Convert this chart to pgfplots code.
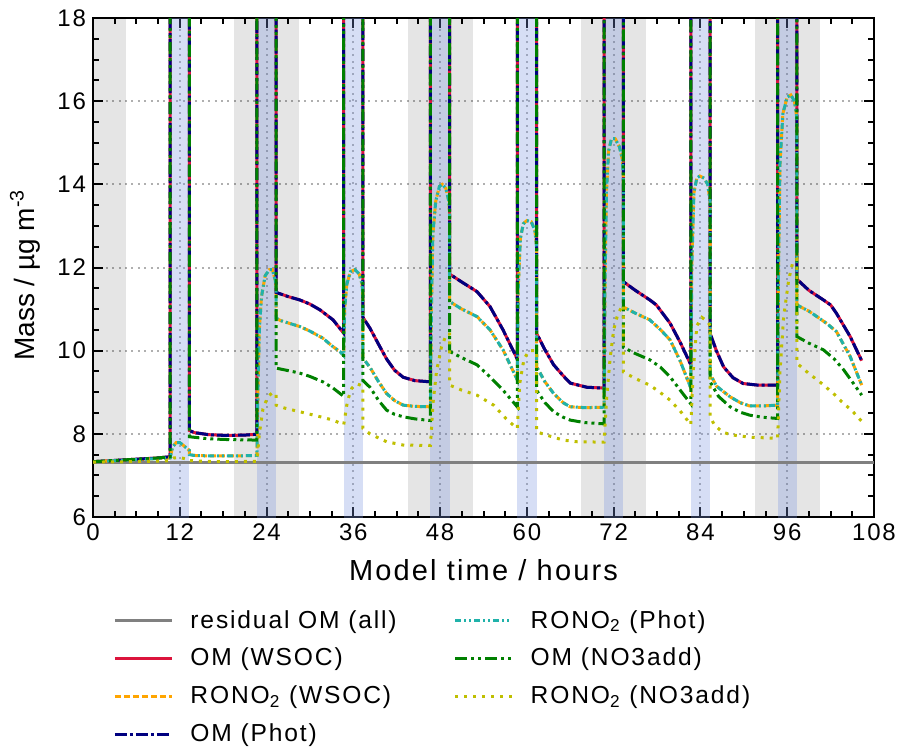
\documentclass[border=0pt]{standalone}
\usepackage{fontspec}
\setmainfont{Liberation Sans}[LetterSpace=7.5]
\newfontfamily\plainfont{Liberation Sans}
\usepackage{pgfplots}
\usepackage{pgfplotstable}
\pgfplotsset{compat=1.18}

\definecolor{bandblue}{RGB}{123,149,223}
\definecolor{cres}{RGB}{128,128,128}
\definecolor{cred}{RGB}{220,20,60}
\definecolor{corange}{RGB}{255,165,0}
\definecolor{cnavy}{RGB}{0,0,128}
\definecolor{cteal}{RGB}{32,178,170}
\definecolor{cgreen}{RGB}{0,128,0}
\definecolor{cyellow}{RGB}{191,191,0}
\definecolor{cgrid}{RGB}{175,175,175}

\tikzset{
 sres/.style={cres, line width=1.5pt},
 somw/.style={cred, line width=1.5pt},
 srnw/.style={corange, line width=1.5pt, dash pattern=on 3pt off 1.5pt},
 somp/.style={cnavy, line width=1.5pt, dash pattern=on 6pt off 1.5pt on 1.5pt off 1.5pt},
 srnp/.style={cteal, line width=1.5pt, dash pattern=on 3pt off 1.5pt on 1pt off 1.5pt on 1pt off 1.5pt},
 somn/.style={cgreen, line width=1.5pt, dash pattern=on 6pt off 2pt on 1.5pt off 2pt on 1.5pt off 2pt},
 srnn/.style={cyellow, line width=1.5pt, dash pattern=on 1.5pt off 3pt},
}

% OM (WSOC) and OM (Phot)
\pgfplotstableread{
x y
0 7.33
3 7.36
6 7.39
9 7.42
10.67 7.45
10.67 30
13.33 30
13.33 8.08
14 8.03
16 7.98
18.5 7.96
21 7.97
22.67 7.99
22.67 30
25.33 30
25.33 11.40
27 11.30
28.6 11.22
30 11.12
31.4 10.98
33.2 10.74
34.67 10.42
34.67 30
37.33 30
37.33 10.80
38.3 10.54
39.5 10.15
40.6 9.80
41.7 9.53
42.9 9.36
44.5 9.28
46.67 9.25
46.67 30
49.33 30
49.33 11.84
51 11.65
53.1 11.42
54.9 11.06
56.7 10.50
58.67 9.80
58.67 30
61.33 30
61.33 10.42
62.5 10.02
63.7 9.66
65 9.40
66 9.22
68.3 9.12
70.67 9.10
70.67 30
73.33 30
73.33 11.66
75 11.45
77 11.22
77.9 11.10
79.8 10.66
81.2 10.20
82.67 9.66
82.67 30
85.33 30
85.33 10.42
86.2 10.00
87.2 9.61
88.5 9.35
89.9 9.21
92 9.17
94.67 9.17
94.67 30
97.33 30
97.33 11.72
99 11.45
101 11.22
102 11.10
102.8 10.90
104.7 10.34
106.3 9.76
}\tabOM

% RONO2 (WSOC) and RONO2 (Phot)
\pgfplotstableread{
x y
0 7.33
5 7.37
10.67 7.42
11.0 7.68
11.5 7.79
12 7.79
12.5 7.72
13.33 7.6
13.33 7.5
14 7.48
16 7.47
20 7.47
22.67 7.48
22.8 9.0
23.0 10.5
23.3 11.3
23.8 11.8
24.4 11.95
24.8 11.95
25.2 11.7
25.33 11.5
25.33 10.78
26 10.72
28.6 10.58
30 10.47
31.8 10.30
33 10.12
34.2 9.97
34.67 9.88
34.8 11.0
35.1 11.6
35.6 11.9
36.2 11.95
36.8 11.85
37.2 11.6
37.33 11.3
37.33 9.82
38.3 9.60
39.5 9.25
40.6 8.97
41.7 8.80
42.9 8.69
44.5 8.66
46.67 8.65
46.8 11.0
47.0 12.8
47.4 13.6
47.9 13.95
48.3 14.0
48.8 13.9
49.2 13.6
49.33 13.2
49.33 11.18
51 11.0
53.1 10.82
54.9 10.50
56.7 10.02
58.67 9.30
58.8 11.5
59.1 12.7
59.5 13.05
60.0 13.13
60.6 13.10
61.1 12.9
61.33 12.5
61.33 9.62
62.5 9.25
63.7 8.97
65 8.75
66 8.65
68 8.63
70.67 8.64
70.8 11.5
71.0 13.8
71.3 14.8
71.7 15.1
72.2 15.1
72.8 14.9
73.2 14.6
73.33 14.2
73.33 11.05
75 10.90
77 10.74
78.5 10.50
79.8 10.26
81.2 9.75
82.67 9.10
82.8 12.0
83.1 13.8
83.5 14.15
83.9 14.2
84.5 14.15
85.0 14.0
85.33 13.6
85.33 9.45
86.2 9.15
88.1 8.89
89.5 8.75
90.8 8.67
92.5 8.67
94.67 8.69
94.8 12.0
95.0 14.5
95.4 15.7
96.0 16.1
96.5 16.15
97.0 16.0
97.33 15.6
97.33 11.10
99 10.95
100.1 10.82
101.5 10.65
102.8 10.46
104.7 9.86
106.3 9.17
}\tabRN

% OM (NO3add)
\pgfplotstableread{
x y
0 7.33
3 7.36
6 7.39
9 7.42
10.67 7.45
10.67 30
13.33 30
13.33 7.93
16 7.88
19 7.86
22.67 7.85
22.67 30
25.33 30
25.33 9.58
27 9.52
28.6 9.46
30 9.38
31.8 9.25
33.2 9.10
34.67 8.90
34.67 30
37.33 30
37.33 9.28
38.3 9.12
39.5 8.80
40.6 8.57
41.7 8.47
42.9 8.41
44.5 8.36
46.67 8.32
46.67 30
49.33 30
49.33 9.98
51 9.83
53.1 9.66
54.9 9.37
56.7 9.05
58.67 8.65
58.67 30
61.33 30
61.33 9.05
62.5 8.75
63.7 8.53
65 8.40
66 8.33
68 8.27
70.67 8.24
70.67 30
73.33 30
73.33 10.08
75 9.93
77 9.78
78.5 9.60
79.8 9.37
81.2 9.05
82.67 8.72
82.67 30
85.33 30
85.33 9.25
86.5 8.90
88.1 8.65
89.5 8.52
90.8 8.45
92.5 8.40
94.67 8.37
94.67 30
97.33 30
97.33 10.34
99 10.18
101 10.02
102.5 9.80
103.8 9.54
105 9.25
106.3 8.93
}\tabON

% RONO2 (NO3add)
\pgfplotstableread{
x y
0 7.32
5 7.33
10.67 7.35
11.2 7.42
12 7.43
12.8 7.40
13.33 7.38
13.33 7.36
14 7.35
18 7.33
22.67 7.34
23.0 8.0
23.5 8.6
24.2 8.9
24.9 9.0
25.33 8.95
25.33 8.69
26.5 8.62
28.6 8.53
31 8.43
33.2 8.33
34.67 8.22
35.2 8.8
35.8 9.1
36.5 9.2
37.33 9.15
37.33 8.13
38.3 8.00
39.5 7.90
40.6 7.81
42.9 7.73
46.67 7.72
47.0 8.7
47.5 9.5
48.2 10.1
48.9 10.4
49.33 10.4
49.33 9.17
51 9.05
53.1 8.93
55.4 8.69
57.3 8.33
58.67 8.13
59.0 9.2
59.6 9.8
60.3 10.0
61.33 10.0
61.33 8.05
62.5 7.98
63.7 7.92
65 7.85
66.9 7.81
70.67 7.80
71.0 8.8
71.5 9.8
72.0 10.5
72.6 10.9
73.33 11.1
73.33 9.49
75 9.33
77 9.17
78.4 9.00
79.8 8.81
81.2 8.55
82.67 8.22
83.0 9.5
83.5 10.6
84.2 10.8
85.0 10.7
85.33 10.6
85.33 8.40
86 8.20
87 8.05
88.1 7.98
90.8 7.92
94.67 7.89
95.0 9.5
95.5 10.8
96.2 11.7
96.8 12.15
97.33 12.2
97.33 9.70
99 9.45
101 9.18
102.5 8.95
103.8 8.73
105 8.55
106.3 8.30
}\tabRNN

\begin{document}
\begin{tikzpicture}
\begin{axis}[
  name=ax,
  scale only axis, width=390.5pt, height=249.5pt,
  xmin=0, xmax=108, ymin=6, ymax=18,
  xtick={0,12,...,108}, ytick={6,8,...,18},
  minor x tick num=3, minor y tick num=3,
  tick align=inside, major tick length=5pt, minor tick length=3pt,
  every tick/.append style={black, line width=1pt},
  axis line style={line width=1.2pt},
  grid=major,
  major grid style={cgrid, line width=1pt, dash pattern=on 1pt off 2.2pt},
  tick label style={font=\fontsize{12}{14}\selectfont},
  /pgf/number format/assume math mode=true,
  xlabel={Model time / hours},
  xlabel style={font=\fontsize{14.5}{17}\selectfont, yshift=-2.5pt},
  ylabel={Mass / µg m\textsuperscript{-3}},
  ylabel style={font=\plainfont\fontsize{14}{16}\selectfont, at={(axis description cs:-0.0871,0.485)}, anchor=center},
  legend columns=2,
  legend cell align=left,
  legend style={at={(axis description cs:0.018,-0.17)}, anchor=north west, draw=none, fill=none,
    font=\fontsize{12.3}{14}\selectfont, row sep=4.5pt,
    /tikz/every odd column/.append style={column sep=6.5pt},
    /tikz/every even column/.append style={column sep=26.5pt}},
  legend image code/.code={\draw[#1] (0pt,0pt) -- (28.5pt,0pt);},
]
% night (grey) bands
\addplot[draw=none, fill=black, fill opacity=0.1, forget plot] coordinates {(-1,5) (-1,19) (4.5,19) (4.5,5)} -- cycle;
\addplot[draw=none, fill=black, fill opacity=0.1, forget plot] coordinates {(19.5,5) (19.5,19) (28.5,19) (28.5,5)} -- cycle;
\addplot[draw=none, fill=black, fill opacity=0.1, forget plot] coordinates {(43.5,5) (43.5,19) (52.5,19) (52.5,5)} -- cycle;
\addplot[draw=none, fill=black, fill opacity=0.1, forget plot] coordinates {(67.5,5) (67.5,19) (76.5,19) (76.5,5)} -- cycle;
\addplot[draw=none, fill=black, fill opacity=0.1, forget plot] coordinates {(91.5,5) (91.5,19) (100.5,19) (100.5,5)} -- cycle;
% cloud (blue) bands
\addplot[draw=none, fill=bandblue, fill opacity=0.31, forget plot] coordinates {(10.67,5) (10.67,19) (13.33,19) (13.33,5)} -- cycle;
\addplot[draw=none, fill=bandblue, fill opacity=0.31, forget plot] coordinates {(22.67,5) (22.67,19) (25.33,19) (25.33,5)} -- cycle;
\addplot[draw=none, fill=bandblue, fill opacity=0.31, forget plot] coordinates {(34.67,5) (34.67,19) (37.33,19) (37.33,5)} -- cycle;
\addplot[draw=none, fill=bandblue, fill opacity=0.31, forget plot] coordinates {(46.67,5) (46.67,19) (49.33,19) (49.33,5)} -- cycle;
\addplot[draw=none, fill=bandblue, fill opacity=0.31, forget plot] coordinates {(58.67,5) (58.67,19) (61.33,19) (61.33,5)} -- cycle;
\addplot[draw=none, fill=bandblue, fill opacity=0.31, forget plot] coordinates {(70.67,5) (70.67,19) (73.33,19) (73.33,5)} -- cycle;
\addplot[draw=none, fill=bandblue, fill opacity=0.31, forget plot] coordinates {(82.67,5) (82.67,19) (85.33,19) (85.33,5)} -- cycle;
\addplot[draw=none, fill=bandblue, fill opacity=0.31, forget plot] coordinates {(94.67,5) (94.67,19) (97.33,19) (97.33,5)} -- cycle;
% series
\addplot[sres, forget plot] coordinates {(0,7.32) (108,7.32)};
\addplot[somw, forget plot] table {\tabOM};
\addplot[srnw, forget plot] table {\tabRN};
\addplot[somp, forget plot] table {\tabOM};
\addplot[srnp, forget plot] table {\tabRN};
\addplot[somn, forget plot] table {\tabON};
\addplot[srnn, forget plot] table {\tabRNN};
% legend (row-wise order for two columns)
\addlegendimage{sres}\addlegendentry{residual OM (all)}
\addlegendimage{srnp}\addlegendentry{RONO\textsubscript{2} (Phot)}
\addlegendimage{somw}\addlegendentry{OM (WSOC)}
\addlegendimage{somn}\addlegendentry{OM (NO3add)}
\addlegendimage{srnw}\addlegendentry{RONO\textsubscript{2} (WSOC)}
\addlegendimage{srnn}\addlegendentry{RONO\textsubscript{2} (NO3add)}
\addlegendimage{somp}\addlegendentry{OM (Phot)}
\end{axis}
\pgfresetboundingbox
\path[use as bounding box] ([xshift=-46.5pt,yshift=-117pt]ax.south west) rectangle ([xshift=12.5pt,yshift=9pt]ax.north east);
\end{tikzpicture}
\end{document}
